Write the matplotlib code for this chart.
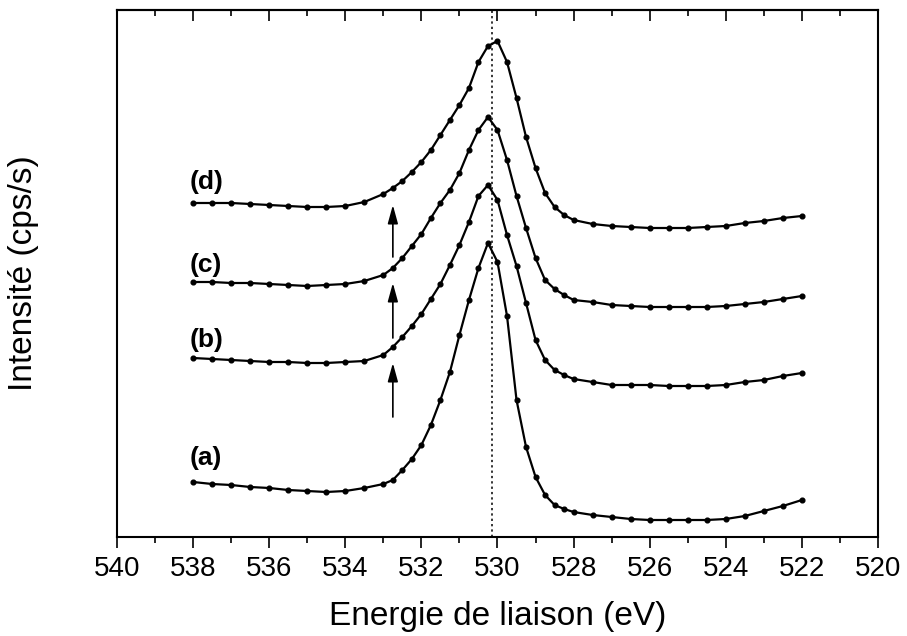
import numpy as np
import matplotlib
matplotlib.use('Agg')
import matplotlib.pyplot as plt

plt.rcParams['font.family'] = ['Liberation Sans', 'DejaVu Sans']

# binding energy (eV) of the sampled points
energy = [538, 537.5, 537, 536.5, 536, 535.5, 535, 534.5, 534, 533.5, 533,
          532.75, 532.5, 532.25, 532, 531.75, 531.5, 531.25, 531, 530.75,
          530.5, 530.25, 530, 529.75, 529.5, 529.25, 529, 528.75, 528.5,
          528.25, 528, 527.5, 527, 526.5, 526, 525.5, 525, 524.5, 524,
          523.5, 523, 522.5, 522]

# intensities (arbitrary units, curves already shifted)
spec_a = [55, 53, 52, 50, 49, 47, 46, 45, 46, 49, 53,
          57, 67, 78, 92, 112, 137, 165, 202, 237,
          269, 294, 275, 221, 137, 90, 60, 42, 32,
          28, 25, 22, 20, 18, 17, 17, 17, 17, 18,
          21, 26, 31, 37]
spec_b = [179, 178, 177, 176, 175, 175, 174, 174, 175, 176, 182,
          190, 200, 211, 223, 238, 253, 272, 292, 315,
          341, 352, 337, 302, 271, 234, 197, 177, 167,
          162, 158, 155, 152, 152, 152, 151, 151, 151, 152,
          155, 157, 161, 164]
spec_c = [255, 255, 254, 254, 253, 252, 251, 252, 253, 256, 262,
          269, 279, 291, 303, 319, 334, 347, 364, 387,
          407, 420, 407, 377, 341, 309, 279, 257, 248,
          242, 237, 235, 232, 231, 230, 230, 230, 230, 231,
          233, 235, 238, 241]
spec_d = [334, 334, 334, 333, 332, 331, 330, 330, 331, 335, 343,
          349, 356, 365, 375, 387, 402, 417, 432, 449,
          475, 491, 496, 475, 439, 400, 369, 344, 330,
          322, 317, 313, 311, 310, 309, 309, 309, 310, 311,
          314, 316, 319, 321]

spectra = [spec_a, spec_b, spec_c, spec_d]
labels = ['(a)', '(b)', '(c)', '(d)']
label_y = [79, 197, 272, 355]

# arrows between the curves (start, end) at 532.75 eV
arrow_x = 532.75
arrow_y = [(120, 174), (199, 254), (280, 332)]

peak_pos = 530.15

fig = plt.figure(figsize=(9.07, 6.36), dpi=100)
ax = fig.add_axes([117/907, 1 - 537/636, (878-117)/907, (537-10)/636])

for s in spectra:
    ax.plot(energy, s, color='k', lw=1.6, marker='o', ms=3.4)

for lab, y in zip(labels, label_y):
    ax.text(538.1, y, lab, fontsize=19, fontweight='bold', ha='left', va='center')

for y0, y1 in arrow_y:
    ax.annotate('', xy=(arrow_x, y1), xytext=(arrow_x, y0),
                arrowprops=dict(arrowstyle='-|>,head_length=0.8,head_width=0.22',
                                color='k', lw=1.2, mutation_scale=14,
                                shrinkA=0, shrinkB=0))

ax.axvline(peak_pos, color='k', lw=1.1, ls=(0, (1.5, 2)))

ax.set_xlim(540, 520)
ax.set_ylim(0, 527)
ax.set_xticks(np.arange(520, 541, 2))
ax.set_xticks(np.arange(520, 541, 1), minor=True)
ax.set_yticks([])
ax.tick_params(axis='x', which='major', direction='out', length=8, width=1.2,
               labelsize=20, pad=6)
ax.tick_params(axis='x', which='minor', direction='out', length=4, width=1.2)

top = ax.secondary_xaxis('top')
top.set_xticks(np.arange(520, 541, 2))
top.set_xticks(np.arange(520, 541, 1), minor=True)
top.tick_params(axis='x', which='major', direction='in', length=8, width=1.2,
                labeltop=False)
top.tick_params(axis='x', which='minor', direction='in', length=4, width=1.2)
top.spines['top'].set_linewidth(1.5)

for sp in ax.spines.values():
    sp.set_linewidth(1.5)

ax.set_xlabel('Energie de liaison (eV)', fontsize=24, labelpad=13)
ax.set_ylabel('Intensité (cps/s)', fontsize=24, labelpad=56)

fig.savefig('out.png', dpi=100)
